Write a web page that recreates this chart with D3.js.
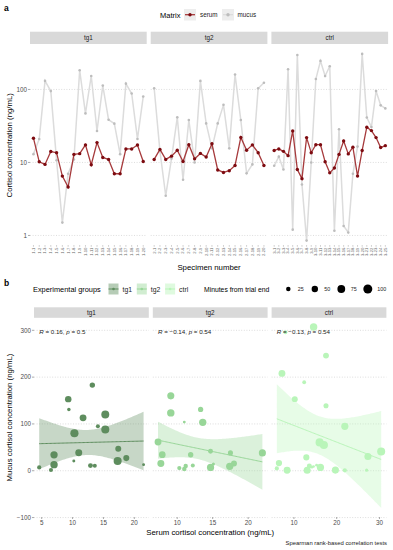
<!DOCTYPE html>
<html>
<head>
<meta charset="utf-8">
<script src="https://cdn.jsdelivr.net/npm/d3@7"></script>
<style>
  body { margin: 0; background: #fff; }
  svg { display: block; font-family: "Liberation Sans", Arial, sans-serif; }
</style>
</head>
<body>
<div id="chart"></div>
<script>
// values
const groups = ["tg1", "tg2", "ctrl"];

const tg1Serum   = [21.5, 10.2, 9.4, 14.1, 13.6, 6.5, 4.6, 12.9, 13.2, 17.4, 9.3, 18.7, 11.7, 11.0, 7.0, 7.0, 15.3, 15.3, 17.3, 10.3];
const tg1Mucus   = [13, 21, 131, 95, 10.7, 1.5, 7, 11, 183, 47, 153, 27, 113, 38.5, 34, 13, 120, 88, 21, 80];
const tg1Minutes = [10, 11, 15, 20, 20, 21, 22, 30, 36, 44, 52, 45, 58, 60, 66, 68, 78, 80, 80, 82];

const tg2Serum   = [11.0, 15.1, 11.0, 12.2, 14.7, 10.3, 17.5, 11.2, 13.3, 11.9, 18.0, 7.9, 7.3, 7.7, 9.1, 22.0, 14.7, 17.4, 13.6, 9.1];
const tg2Mucus   = [104, 14.3, 3.5, 11.3, 41.5, 5.8, 38.1, 10, 131, 34.3, 15.6, 34.3, 61.5, 15.6, 160, 38.1, 7.1, 9.4, 103.5, 123.6];
const tg2Minutes = [10, 12, 25, 20, 30, 22, 32, 24, 34, 36, 44, 55, 58, 60, 62, 62, 64, 66, 66, 68];

const ctrlSerum   = [14.6, 15.3, 14.2, 12.4, 27.0, 8.0, 6.0, 21.9, 13.6, 17.5, 17.5, 10.2, 7.2, 8.4, 12.9, 19.7, 13.1, 16.2, 6.5, 14.6, 30.4, 27.3, 21.9, 16.0, 17.0];
const ctrlMucus   = [9, 12, 8, 189, 1.2, 296, 5, 0.85, 10, 139, 246, 153, 208, 1.16, 28.5, 1.35, 1.1, 7, 16.5, 307, 41.3, 30.6, 95, 60.6, 55];
const ctrlMinutes = [8, 10, 12, 18, 12, 20, 22, 22, 30, 32, 42, 44, 58, 60, 46, 62, 62, 64, 48, 68, 80, 62, 64, 80, 82];

const corR = ["0.16", "\u22120.14", "\u22120.13"];
const corP = ["0.5", "0.54", "0.54"];

const yTicksA = [1, 10, 100];
const yTicksB = [-100, 0, 100, 200, 300];
const xTicksB = [[5, 10, 15, 20], [10, 15, 20], [10, 20, 30]];
const minuteTicks = [25, 50, 75, 100];
const tCrit = { 18: 2.101, 23: 2.069 };   // t(0.975, n-2)

const serumByGroup = [tg1Serum, tg2Serum, ctrlSerum];
const mucusByGroup = [tg1Mucus, tg2Mucus, ctrlMucus];
const minutesByGroup = [tg1Minutes, tg2Minutes, ctrlMinutes];

const greens = ["#5e8d5e", "#98d698", "#b9f5b9"];
const serumLine = "#a63a3c", serumPt = "#7d0b10";
const mucusLine = "#dcdcdc", mucusPt = "#bdbdbd";
const stripFill = "#d9d9d9", gridCol = "#cfcfcf", tickCol = "#4d4d4d";

const W = 393, H = 550;
const svg = d3.select("#chart").append("svg").attr("width", W).attr("height", H);

// ---------- panel a ----------
const A = { left: 30, top: 45.5, bottom: 245, w: 116.7, gap: 4, stripTop: 31.7, stripH: 12.3 };
const yA = d3.scaleLog().domain([0.74, 400]).range([A.bottom, A.top]);

svg.append("text").attr("x", 4).attr("y", 10.5).attr("font-size", 8.5).attr("font-weight", "bold").text("a");

// legend a
const legA = svg.append("g");
legA.append("text").attr("x", 160).attr("y", 17.5).attr("font-size", 7.5).text("Matrix");
[["serum", 184, 200, serumLine, serumPt], ["mucus", 222, 237.5, mucusLine, mucusPt]].forEach(k => {
  legA.append("rect").attr("x", k[1]).attr("y", 9).attr("width", 12).attr("height", 11.5).attr("fill", "#ededed");
  legA.append("line").attr("x1", k[1] + 1).attr("x2", k[1] + 11).attr("y1", 14.7).attr("y2", 14.7)
    .attr("stroke", k[3]).attr("stroke-width", 1.3);
  legA.append("circle").attr("cx", k[1] + 6).attr("cy", 14.7).attr("r", 1.7).attr("fill", k[4]);
  legA.append("text").attr("x", k[2]).attr("y", 17).attr("font-size", 6.3).attr("fill", "#222").text(k[0]);
});

groups.forEach((g, gi) => {
  const x0 = A.left + gi * (A.w + A.gap);
  const serum = serumByGroup[gi], mucus = mucusByGroup[gi];
  const idx = d3.range(serum.length);
  const x = d3.scalePoint().domain(idx).range([x0, x0 + A.w]).padding(0.6);
  const p = svg.append("g");

  p.append("rect").attr("x", x0).attr("y", A.stripTop).attr("width", A.w).attr("height", A.stripH).attr("fill", stripFill);
  p.append("text").attr("x", x0 + A.w / 2).attr("y", A.stripTop + A.stripH / 2 + 2.2)
    .attr("text-anchor", "middle").attr("font-size", 6.3).attr("fill", "#1a1a1a").text(g);

  p.selectAll(".grid").data(yTicksA).enter().append("line")
    .attr("x1", x0).attr("x2", x0 + A.w).attr("y1", d => yA(d)).attr("y2", d => yA(d))
    .attr("stroke", gridCol).attr("stroke-width", 0.7).attr("stroke-dasharray", "1,1.6");

  // specimen ticks + rotated labels
  p.selectAll(".xt").data(idx).enter().append("line")
    .attr("x1", d => x(d)).attr("x2", d => x(d)).attr("y1", A.bottom).attr("y2", A.bottom + 1.8)
    .attr("stroke", "#888").attr("stroke-width", 0.4);
  p.selectAll(".xl").data(idx).enter().append("text")
    .attr("transform", d => `translate(${x(d) + 1.4},${A.bottom + 2.6}) rotate(-90)`)
    .attr("text-anchor", "end").attr("font-size", 4.2).attr("fill", "#666")
    .text(d => `${gi + 1}-${d + 1}`);

  const lineM = d3.line().x((d, i) => x(i)).y(d => yA(d));
  p.append("path").attr("d", lineM(mucus)).attr("fill", "none").attr("stroke", mucusLine).attr("stroke-width", 1.5);
  p.selectAll(".mp").data(mucus).enter().append("circle")
    .attr("cx", (d, i) => x(i)).attr("cy", d => yA(d)).attr("r", 1.3).attr("fill", mucusPt);
  p.append("path").attr("d", lineM(serum)).attr("fill", "none").attr("stroke", serumLine).attr("stroke-width", 1.3);
  p.selectAll(".sp").data(serum).enter().append("circle")
    .attr("cx", (d, i) => x(i)).attr("cy", d => yA(d)).attr("r", 1.7).attr("fill", serumPt);
});

// y axis a
const axA = svg.append("g");
yTicksA.forEach(t => {
  axA.append("line").attr("x1", A.left - 2).attr("x2", A.left).attr("y1", yA(t)).attr("y2", yA(t)).attr("stroke", "#555").attr("stroke-width", 0.5);
  axA.append("text").attr("x", A.left - 3).attr("y", yA(t) + 2.2).attr("text-anchor", "end")
    .attr("font-size", 6.3).attr("fill", tickCol).text(d3.format("d")(t));
});
svg.append("text").attr("transform", `translate(11.5,${(A.top + A.bottom) / 2}) rotate(-90)`)
  .attr("text-anchor", "middle").attr("font-size", 7.8).text("Cortisol concentration (ng/mL)");
svg.append("text").attr("x", A.left + (3 * A.w + 2 * A.gap) / 2).attr("y", 269.5)
  .attr("text-anchor", "middle").attr("font-size", 7.8).text("Specimen number");

// ---------- panel b ----------
const B = { left: 34, top: 318, bottom: 517, w: 114.8, gap: 4, stripTop: 307.3, stripH: 10.5 };
const rScale = d3.scaleSqrt().domain([0, 100]).range([0, 4.5]);

function lmBand(xs, ys, t) {
  const n = xs.length, xbar = d3.mean(xs), ybar = d3.mean(ys);
  const sxx = d3.sum(xs, v => (v - xbar) ** 2);
  const sxy = d3.sum(xs, (v, i) => (v - xbar) * (ys[i] - ybar));
  const b = sxy / sxx, a = ybar - b * xbar;
  const s = Math.sqrt(d3.sum(xs, (v, i) => (ys[i] - a - b * v) ** 2) / (n - 2));
  const [lo, hi] = d3.extent(xs);
  return d3.range(80).map(i => {
    const xv = lo + i * (hi - lo) / 79, fit = a + b * xv;
    const se = s * Math.sqrt(1 / n + (xv - xbar) ** 2 / sxx);
    return { x: xv, y: fit, lo: fit - t * se, hi: fit + t * se };
  });
}

const bands = groups.map((g, gi) => lmBand(serumByGroup[gi], mucusByGroup[gi], tCrit[serumByGroup[gi].length - 2]));
const allY = d3.merge(mucusByGroup).concat(d3.merge(bands.map(bd => bd.flatMap(d => [d.lo, d.hi]))));
const [ylo, yhi] = d3.extent(allY);
const ypad = (yhi - ylo) * 0.05;
const yB = d3.scaleLinear().domain([ylo - ypad, yhi + ypad]).range([B.bottom, B.top]);

svg.append("text").attr("x", 4).attr("y", 285.5).attr("font-size", 8.5).attr("font-weight", "bold").text("b");

// legend b
const legB = svg.append("g");
legB.append("text").attr("x", 33).attr("y", 291.8).attr("font-size", 7.4).text("Experimental groups");
groups.forEach((g, gi) => {
  const kx = 108.5 + gi * 28.3;
  legB.append("rect").attr("x", kx).attr("y", 283.5).attr("width", 10).attr("height", 11).attr("fill", greens[gi]).attr("opacity", 0.45);
  legB.append("line").attr("x1", kx).attr("x2", kx + 10).attr("y1", 289).attr("y2", 289).attr("stroke", greens[gi]).attr("stroke-width", 1);
  legB.append("circle").attr("cx", kx + 5).attr("cy", 289).attr("r", 1.3).attr("fill", greens[gi]);
  legB.append("text").attr("x", kx + 14).attr("y", 291.5).attr("font-size", 6.8).attr("fill", "#222").text(g);
});
legB.append("text").attr("x", 204).attr("y", 291.5).attr("font-size", 6.8).text("Minutes from trial end");
minuteTicks.forEach((m, i) => {
  const cx = 288.3 + i * 26.5;
  legB.append("circle").attr("cx", cx).attr("cy", 289).attr("r", rScale(m)).attr("fill", "#000");
  legB.append("text").attr("x", cx + 9.5).attr("y", 291).attr("font-size", 5.4).attr("fill", "#222").text(m);
});

groups.forEach((g, gi) => {
  const x0 = B.left + gi * (B.w + B.gap);
  const serum = serumByGroup[gi], mucus = mucusByGroup[gi], mins = minutesByGroup[gi];
  const [xlo, xhi] = d3.extent(serum), xpad = (xhi - xlo) * 0.05;
  const x = d3.scaleLinear().domain([xlo - xpad, xhi + xpad]).range([x0, x0 + B.w]);
  const p = svg.append("g");

  p.append("rect").attr("x", x0).attr("y", B.stripTop).attr("width", B.w).attr("height", B.stripH).attr("fill", stripFill);
  p.append("text").attr("x", x0 + B.w / 2).attr("y", B.stripTop + B.stripH / 2 + 2.2)
    .attr("text-anchor", "middle").attr("font-size", 6.3).attr("fill", "#1a1a1a").text(g);

  p.selectAll(".grid").data(yTicksB).enter().append("line")
    .attr("x1", x0).attr("x2", x0 + B.w).attr("y1", d => yB(d)).attr("y2", d => yB(d))
    .attr("stroke", gridCol).attr("stroke-width", 0.7).attr("stroke-dasharray", "1,1.6");

  const pts = serum.map((s, i) => ({ s, m: mucus[i], t: mins[i] }));
  p.selectAll(".pt").data(pts).enter().append("circle")
    .attr("cx", d => x(d.s)).attr("cy", d => yB(d.m)).attr("r", d => rScale(d.t)).attr("fill", greens[gi]);

  const band = bands[gi];
  p.append("path").datum(band)
    .attr("d", d3.area().x(d => x(d.x)).y0(d => yB(d.lo)).y1(d => yB(d.hi)))
    .attr("fill", greens[gi]).attr("opacity", 0.35);
  p.append("path").datum(band)
    .attr("d", d3.line().x(d => x(d.x)).y(d => yB(d.y)))
    .attr("fill", "none").attr("stroke", greens[gi]).attr("stroke-width", 1);

  const lab = p.append("text").attr("x", x(xlo)).attr("y", yB(300) + 3.2).attr("font-size", 6.2).attr("fill", "#222");
  lab.append("tspan").attr("font-style", "italic").text("R");
  lab.append("tspan").text(` = ${corR[gi]}, `);
  lab.append("tspan").attr("font-style", "italic").text("p");
  lab.append("tspan").text(` = ${corP[gi]}`);

  xTicksB[gi].forEach(t => {
    p.append("line").attr("x1", x(t)).attr("x2", x(t)).attr("y1", B.bottom).attr("y2", B.bottom + 2)
      .attr("stroke", "#555").attr("stroke-width", 0.5);
    p.append("text").attr("x", x(t)).attr("y", B.bottom + 8).attr("text-anchor", "middle")
      .attr("font-size", 6.3).attr("fill", tickCol).text(t);
  });
});

const axB = svg.append("g");
yTicksB.forEach(t => {
  axB.append("line").attr("x1", B.left - 2).attr("x2", B.left).attr("y1", yB(t)).attr("y2", yB(t)).attr("stroke", "#555").attr("stroke-width", 0.5);
  axB.append("text").attr("x", B.left - 3).attr("y", yB(t) + 2.2).attr("text-anchor", "end")
    .attr("font-size", 6.3).attr("fill", tickCol).text(d3.format("d")(t));
});
svg.append("text").attr("transform", `translate(12,${(B.top + B.bottom) / 2}) rotate(-90)`)
  .attr("text-anchor", "middle").attr("font-size", 7.8).text("Mucus cortisol concentration (ng/mL)");
svg.append("text").attr("x", B.left + (3 * B.w + 2 * B.gap) / 2).attr("y", 534.5)
  .attr("text-anchor", "middle").attr("font-size", 7.8).text("Serum cortisol concentration (ng/mL)");
svg.append("text").attr("x", 387).attr("y", 545).attr("text-anchor", "end")
  .attr("font-size", 5.9).attr("fill", "#222").text("Spearman rank-based correlation tests");
</script>
</body>
</html>
